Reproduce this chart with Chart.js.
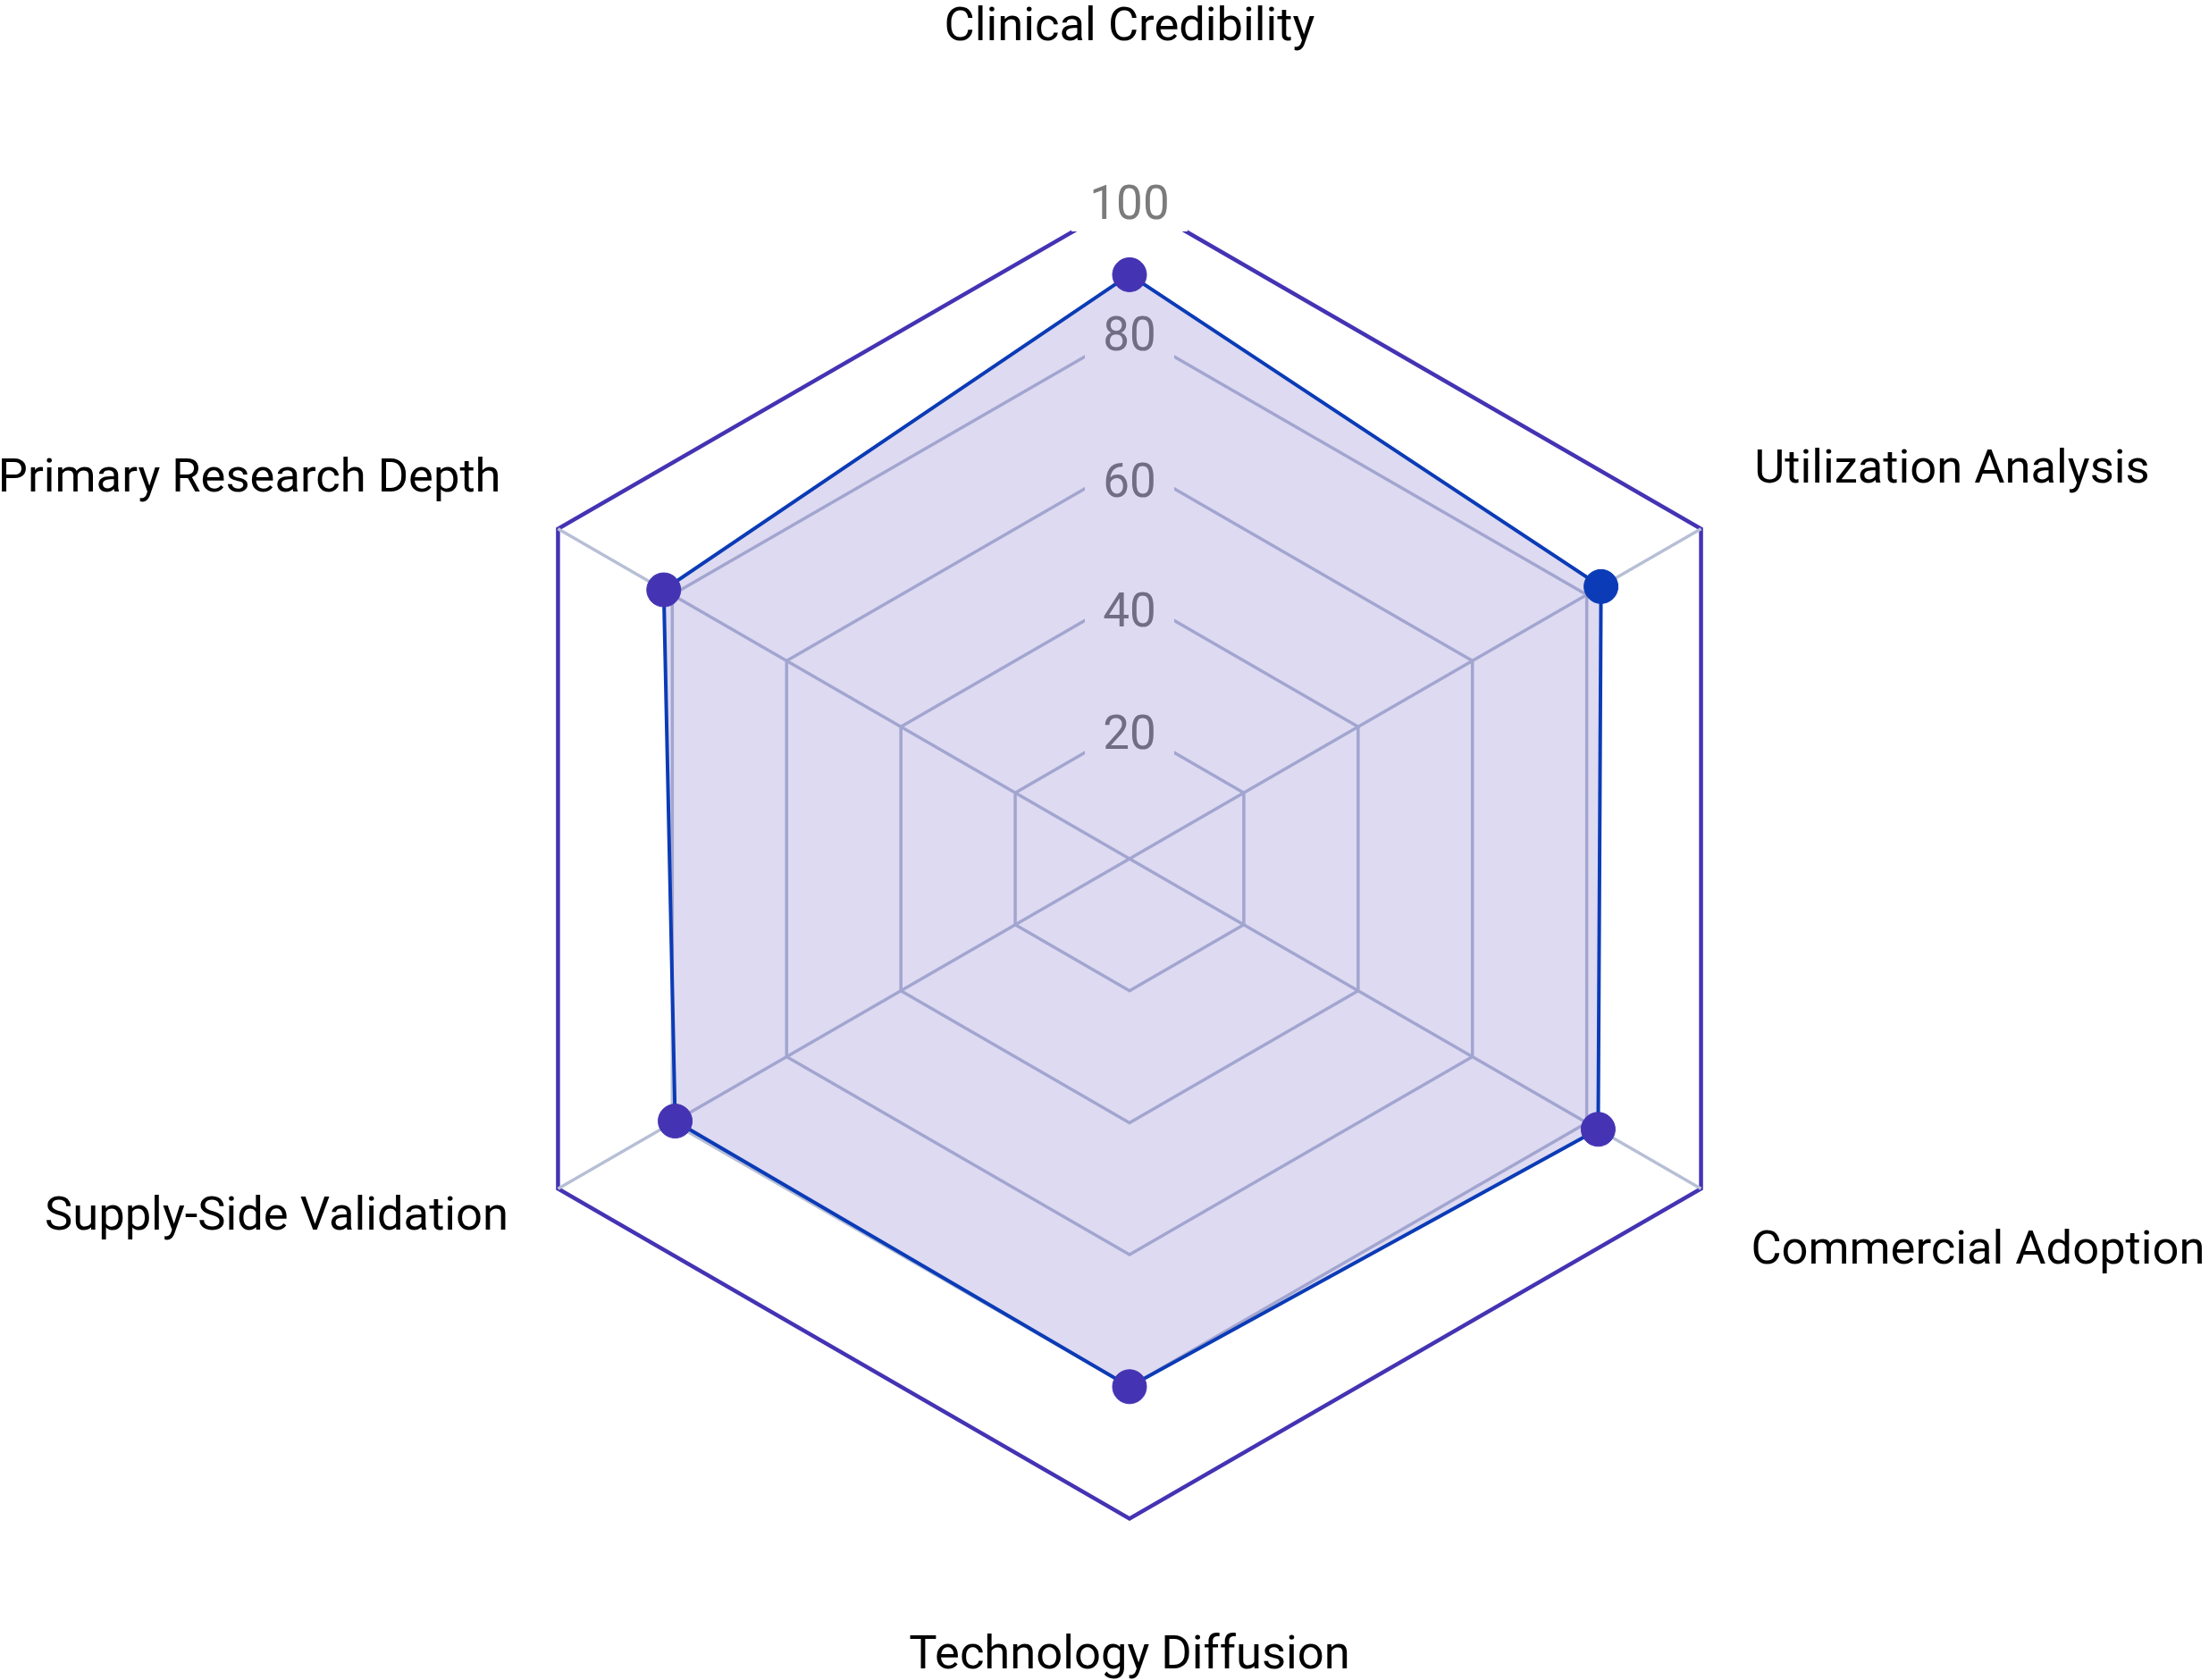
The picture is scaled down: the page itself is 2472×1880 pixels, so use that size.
<!DOCTYPE html>
<html>
<head>
<meta charset="utf-8">
<script src="https://cdn.jsdelivr.net/npm/chart.js@4.4.1/dist/chart.umd.min.js"></script>
<style>
html, body {
  margin: 0;
  width: 2472px;
  height: 1880px;
  overflow: hidden;
  background: #ffffff;
}
/* canvas is a bit wider than the window so the side names never squeeze the radius */
.chart-box {
  position: absolute;
  left: -200px;
  top: 0;
  width: 2928px;
  height: 1880px;
}
</style>
</head>
<body>
<div class="chart-box">
  <canvas id="radar"></canvas>
</div>
<script>
var categories = [
  "Clinical Credibility",
  "Utilization Analysis",
  "Commercial Adoption",
  "Technology Diffusion",
  "Supply-Side Validation",
  "Primary Research Depth"
];
var scores = [88.5, 82.5, 82, 80, 79.5, 81.5];
var tickValues = [20, 40, 60, 80, 100];

// per-label nudges so the axis names sit where the original has them
var labelPadding = [144, 32.4, 28, 112, 27.5, 37.3];
var labelLineHeight = ["21px", "61px", "76px", "11px", "1px", "36px"];
// the original draws some tick numbers a little below their ring
var tickDrop = [0, 11, 22, 25, 9, 9];

var purple = "#4433b3";
var blue = "#0b3bb6";
var gridGrey = "#b7bfd6";

var pointColors = categories.map(function(c, i) {
  return i === 1 ? blue : purple;
});

var ctx = document.getElementById("radar").getContext("2d");
var chart = new Chart(ctx, {
  type: "radar",
  data: {
    labels: categories,
    datasets: [{
      data: scores,
      fill: true,
      backgroundColor: "rgba(68, 51, 179, 0.18)",
      borderColor: blue,
      borderWidth: 4,
      pointRadius: 19,
      pointBorderWidth: 1,
      pointBackgroundColor: pointColors,
      pointBorderColor: pointColors
    }]
  },
  options: {
    responsive: true,
    maintainAspectRatio: false,
    animation: false,
    plugins: {
      legend: { display: false },
      tooltip: { enabled: false }
    },
    scales: {
      r: {
        min: 0,
        max: 100,
        afterBuildTicks: function(scale) {
          scale.ticks = [0].concat(tickValues).map(function(v) { return { value: v }; });
        },
        grid: {
          lineWidth: function(c) {
            return c.tick && c.tick.value === 100 ? 4.5 : 3.5;
          },
          color: function(c) {
            return c.tick && c.tick.value === 100 ? purple : gridGrey;
          }
        },
        angleLines: {
          lineWidth: 3.5,
          color: function(c) {
            // no spoke on the vertical axis
            return c.index % 3 === 0 ? "rgba(0,0,0,0)" : gridGrey;
          }
        },
        ticks: {
          color: "#7b7b7b",
          callback: function(v) { return ["", String(v)]; },
          font: function(c) {
            var drop = c.index !== undefined && tickDrop[c.index] !== undefined ? tickDrop[c.index] : 0;
            return { family: "Roboto", size: 53, lineHeight: drop + "px" };
          },
          showLabelBackdrop: true,
          backdropColor: "#ffffff",
          backdropPadding: { x: 15, y: 10 }
        },
        pointLabels: {
          color: "#000000",
          padding: function(c) { return labelPadding[c.index]; },
          font: function(c) {
            return { family: "Roboto", size: 52.5, lineHeight: labelLineHeight[c.index] };
          }
        }
      }
    }
  }
});
</script>
</body>
</html>
